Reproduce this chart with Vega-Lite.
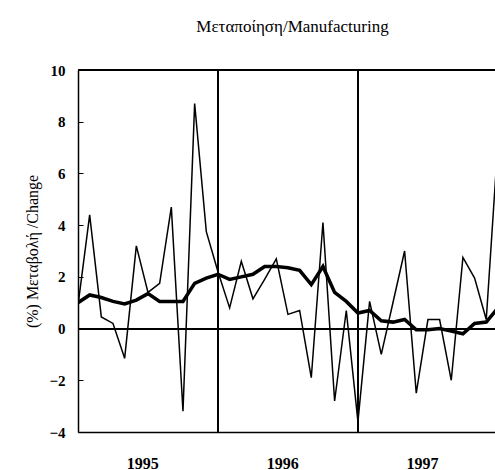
{
  "$schema": "https://vega.github.io/schema/vega-lite/v6.json",
  "autosize": {"type": "none"},
  "width": 417,
  "height": 362,
  "padding": {"left": 78, "top": 70, "right": 0, "bottom": 38},
  "background": "white",
  "config": {
    "view": {"stroke": null},
    "font": "Liberation Serif"
  },
  "title": {
    "text": "Μεταποίηση/Manufacturing",
    "font": "Liberation Serif",
    "fontSize": 17,
    "fontWeight": "normal",
    "color": "black",
    "offset": 27,
    "dx": 6
  },
  "data": {
    "values": [
      {"m": 0, "monthly": 0.9, "smooth": 1.0},
      {"m": 1, "monthly": 4.4, "smooth": 1.3},
      {"m": 2, "monthly": 0.45, "smooth": 1.2},
      {"m": 3, "monthly": 0.2, "smooth": 1.05},
      {"m": 4, "monthly": -1.15, "smooth": 0.95},
      {"m": 5, "monthly": 3.2, "smooth": 1.1},
      {"m": 6, "monthly": 1.4, "smooth": 1.35},
      {"m": 7, "monthly": 1.75, "smooth": 1.05},
      {"m": 8, "monthly": 4.7, "smooth": 1.05},
      {"m": 9, "monthly": -3.2, "smooth": 1.05},
      {"m": 10, "monthly": 8.7, "smooth": 1.75},
      {"m": 11, "monthly": 3.75, "smooth": 1.95},
      {"m": 12, "monthly": 2.2, "smooth": 2.1},
      {"m": 13, "monthly": 0.8, "smooth": 1.9},
      {"m": 14, "monthly": 2.6, "smooth": 2.0},
      {"m": 15, "monthly": 1.15, "smooth": 2.1},
      {"m": 16, "monthly": 1.9, "smooth": 2.4},
      {"m": 17, "monthly": 2.7, "smooth": 2.4},
      {"m": 18, "monthly": 0.55, "smooth": 2.35},
      {"m": 19, "monthly": 0.7, "smooth": 2.25},
      {"m": 20, "monthly": -1.9, "smooth": 1.7},
      {"m": 21, "monthly": 4.1, "smooth": 2.4},
      {"m": 22, "monthly": -2.8, "smooth": 1.4},
      {"m": 23, "monthly": 0.7, "smooth": 1.05},
      {"m": 24, "monthly": -3.6, "smooth": 0.6},
      {"m": 25, "monthly": 1.05, "smooth": 0.7},
      {"m": 26, "monthly": -1.0, "smooth": 0.3},
      {"m": 27, "monthly": 1.0, "smooth": 0.25},
      {"m": 28, "monthly": 3.0, "smooth": 0.35},
      {"m": 29, "monthly": -2.5, "smooth": -0.05},
      {"m": 30, "monthly": 0.35, "smooth": -0.05},
      {"m": 31, "monthly": 0.35, "smooth": 0.0},
      {"m": 32, "monthly": -2.0, "smooth": -0.1},
      {"m": 33, "monthly": 2.75, "smooth": -0.2},
      {"m": 34, "monthly": 1.95, "smooth": 0.2},
      {"m": 35, "monthly": 0.35, "smooth": 0.25},
      {"m": 36, "monthly": 7.2, "smooth": 0.8}
    ]
  },
  "layer": [
    {
      "mark": {"type": "rule", "color": "black", "strokeWidth": 1.2},
      "encoding": {"y": {"datum": 0, "type": "quantitative", "scale": {"domain": [-4, 10]}}}
    },
    {
      "mark": {"type": "rule", "color": "black", "strokeWidth": 1.5},
      "encoding": {"y": {"datum": 10, "type": "quantitative"}}
    },
    {
      "mark": {"type": "rule", "color": "black", "strokeWidth": 1.2},
      "encoding": {"x": {"datum": 12, "type": "quantitative"}}
    },
    {
      "mark": {"type": "rule", "color": "black", "strokeWidth": 1.2},
      "encoding": {"x": {"datum": 24, "type": "quantitative"}}
    },
    {
      "mark": {"type": "line", "color": "black", "strokeWidth": 1.5, "clip": true},
      "encoding": {
        "x": {
          "field": "m",
          "type": "quantitative",
          "scale": {"domain": [0, 35.75], "nice": false, "zero": false},
          "axis": {
            "values": [5.5, 17.5, 29.5],
            "labelExpr": "floor(datum.value / 12) + 1995",
            "title": null,
            "grid": false,
            "ticks": false,
            "domainColor": "black",
            "domainWidth": 1.5,
            "labelFont": "Liberation Serif",
            "labelFontSize": 16,
            "labelFontWeight": "bold",
            "labelColor": "black",
            "labelPadding": 23
          }
        },
        "y": {
          "field": "monthly",
          "type": "quantitative",
          "scale": {"domain": [-4, 10], "nice": false},
          "axis": {
            "values": [-4, -2, 0, 2, 4, 6, 8, 10],
            "title": "(%) Μεταβολή /Change",
            "titleFont": "Liberation Serif",
            "titleFontSize": 16,
            "titleFontWeight": "normal",
            "titleColor": "black",
            "titleX": -46,
            "titleY": 181,
            "titleAngle": -90,
            "titleAlign": "center",
            "titleBaseline": "middle",
            "grid": false,
            "tickSize": -5,
            "tickColor": "black",
            "domainColor": "black",
            "domainWidth": 1.5,
            "labelFont": "Liberation Serif",
            "labelFontSize": 15,
            "labelFontWeight": "bold",
            "labelColor": "black",
            "labelPadding": 18
          }
        }
      }
    },
    {
      "mark": {"type": "line", "color": "black", "strokeWidth": 3.5, "clip": true},
      "encoding": {
        "x": {"field": "m", "type": "quantitative"},
        "y": {"field": "smooth", "type": "quantitative"}
      }
    }
  ]
}
